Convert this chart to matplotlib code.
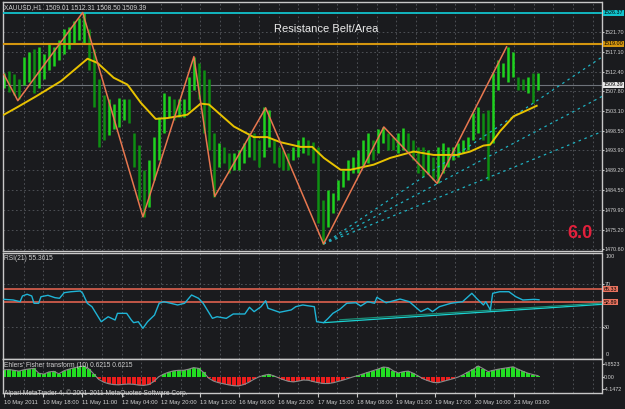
import matplotlib
matplotlib.use("Agg")
import matplotlib.pyplot as plt
import numpy as np

plt.rcParams['font.family'] = ['Liberation Sans', 'DejaVu Sans']

# ---- main window: hourly bars read off roughly every 5 px (~2.16 bars) ----
bar_high = [1512.2, 1512.5, 1511.8, 1510.6, 1516.0, 1517.0, 1517.7, 1518.2, 1516.5, 1518.9,
            1518.2, 1520.0, 1522.4, 1522.9, 1524.3, 1525.2, 1526.4, 1522.4, 1517.7, 1510.6,
            1507.0, 1505.9, 1504.7, 1506.3, 1505.9, 1505.9, 1498.0, 1495.2, 1489.3, 1491.7,
            1497.1, 1501.8, 1507.5, 1506.6, 1505.9, 1505.9, 1505.9, 1511.3, 1516.0, 1514.6,
            1512.9, 1510.6, 1498.0, 1495.7, 1494.7, 1493.3, 1493.3, 1494.0, 1495.7, 1498.0,
            1498.0, 1496.4, 1504.0, 1503.5, 1496.4, 1494.7, 1494.0, 1493.3, 1494.7, 1496.4,
            1497.1, 1496.4, 1495.9, 1494.7, 1482.2, 1484.6, 1483.9, 1486.9, 1489.3, 1491.7,
            1492.4, 1494.0, 1496.4, 1498.0, 1496.4, 1498.8, 1499.5, 1498.0, 1497.1, 1498.0,
            1499.2, 1498.0, 1496.4, 1494.7, 1494.7, 1494.0, 1492.4, 1494.7, 1495.7, 1494.7,
            1494.7, 1495.7, 1496.4, 1497.1, 1502.8, 1504.2, 1502.8, 1503.5, 1512.2, 1515.3,
            1514.6, 1518.2, 1517.0, 1511.3, 1510.6, 1511.3, 1512.2, 1512.2]
bar_low = [1508.7, 1507.7, 1507.0, 1505.9, 1509.4, 1509.9, 1507.5, 1508.7, 1510.6, 1512.9,
           1513.7, 1515.3, 1516.5, 1517.7, 1518.9, 1520.0, 1518.9, 1512.9, 1504.2, 1494.7,
           1496.4, 1497.6, 1498.8, 1499.5, 1501.1, 1500.4, 1490.0, 1482.2, 1478.2, 1480.5,
           1486.9, 1491.7, 1498.0, 1501.8, 1501.1, 1501.8, 1501.8, 1503.5, 1508.2, 1505.9,
           1498.0, 1494.0, 1482.9, 1490.0, 1490.9, 1488.6, 1489.3, 1489.3, 1490.9, 1492.4,
           1491.7, 1490.0, 1492.4, 1494.7, 1490.9, 1490.0, 1489.3, 1489.3, 1491.7, 1492.4,
           1493.3, 1492.8, 1490.9, 1476.8, 1471.8, 1475.8, 1479.1, 1482.2, 1485.3, 1486.9,
           1488.6, 1488.6, 1490.0, 1490.9, 1491.7, 1493.3, 1495.7, 1494.0, 1494.0, 1493.3,
           1494.0, 1493.3, 1491.7, 1488.6, 1487.6, 1488.6, 1486.9, 1486.2, 1488.6, 1490.0,
           1491.7, 1492.4, 1493.3, 1494.0, 1496.4, 1498.0, 1496.4, 1486.9, 1495.7, 1508.2,
           1511.3, 1509.9, 1511.3, 1508.2, 1508.2, 1507.5, 1505.1, 1508.2]

zz_hours = [0, 6, 34, 60, 82, 91, 113, 138, 164, 187, 217]
zz_price = [1511.8, 1505.6, 1526.4, 1478.2, 1516.0, 1483.0, 1503.9, 1471.8, 1499.4, 1486.1, 1518.3]

ma_hours = [0, 5.9, 13.8, 24.6, 36.1, 40.4, 47.4, 53.3, 59.1, 65.5, 70.6, 79.2, 84.9, 88.5,
            99.3, 107.9, 113.7, 119.4, 128.0, 133.1, 138.1, 145.3, 149.6, 159.6, 166.8, 176.9,
            185.5, 195.6, 201.3, 207.0, 209.9, 214.2, 220.0, 225.7, 230.0]
ma_price = [1502.3, 1504.1, 1506.6, 1510.2, 1515.5, 1514.5, 1511.0, 1509.4, 1505.1, 1501.3,
            1501.5, 1502.3, 1504.9, 1504.7, 1499.5, 1497.0, 1497.0, 1495.8, 1494.7, 1494.7,
            1492.1, 1489.3, 1489.3, 1490.5, 1492.1, 1493.6, 1492.8, 1492.8, 1493.6, 1495.0,
            1495.2, 1498.4, 1501.9, 1503.3, 1504.4]

# fan of dotted trendlines from the 17 May low, price where each meets the right edge
fan_end = [1515.9, 1506.6, 1498.3]

price_ticks = [1470.60, 1475.20, 1479.90, 1484.50, 1489.20, 1493.90, 1498.50,
               1503.10, 1507.80, 1512.40, 1517.10, 1521.70]
resist_hi = 1526.37
resist_lo = 1519.00
bid = 1509.39

# ---- RSI(21) ----
rsi_hours = [0, 4, 7, 8, 10, 12, 13, 15, 16, 19, 22, 24, 26, 29, 33, 34, 36, 38, 42, 45,
             48, 49, 53, 55, 56, 58, 60, 62, 65, 67, 69, 72, 75, 78, 81, 84, 86, 90, 92, 96,
             99, 104, 106, 108, 111, 113, 114, 119, 124, 126, 129, 132, 134, 135, 138, 140, 142,
             145, 148, 152, 154, 157, 160, 161, 165, 171, 175, 180, 183, 185, 188, 193, 198,
             202, 204, 207, 208, 210, 211, 214, 218, 221, 224, 229, 231]
rsi_values = [55.8, 55.2, 53.6, 59.0, 60.6, 59.0, 52.1, 52.1, 58.3, 59.6, 57.4, 56.8, 62.1,
              63.0, 63.7, 61.5, 52.1, 48.9, 34.7, 39.4, 36.3, 42.6, 42.6, 36.3, 33.8, 34.7,
              28.5, 34.7, 41.0, 52.1, 53.6, 52.1, 50.5, 52.1, 59.9, 56.8, 52.1, 37.9, 39.4,
              37.9, 42.0, 42.0, 48.3, 44.2, 48.9, 54.5, 47.4, 43.6, 45.8, 48.9, 50.5, 49.5,
              48.9, 34.7, 33.8, 37.9, 42.6, 46.4, 52.1, 52.6, 49.5, 53.6, 52.1, 57.7, 52.6,
              56.1, 53.6, 44.2, 47.4, 44.2, 48.9, 52.1, 53.6, 61.5, 56.8, 50.5, 53.6, 45.8,
              61.5, 63.0, 63.0, 58.3, 55.2, 55.8, 55.4]
rsi_lines = [65.33, 52.89]
rsi_trend = [(138, 33.8, 51.1), (145, 36.5, 52.3)]   # start hour, start value, value at right edge

# ---- Ehlers' Fisher transform, same ~5 px buckets as the bars ----
fisher = [2.8, 2.9, 2.6, 2.3, 2.8, 3.1, 3.3, 1.5, 1.2, 2.0,
          2.2, 1.3, 2.4, 3.0, 3.5, 3.9, 4.2, 3.2, 1.2, -0.8,
          -1.8, -2.4, -2.7, -2.8, -2.6, -2.5, -2.6, -2.9, -3.0, -2.7,
          -1.6, 0.2, 1.2, 1.9, 2.4, 2.6, 2.6, 3.0, 3.6, 3.3,
          1.8, -0.3, -1.4, -2.0, -2.4, -2.8, -3.1, -3.2, -2.7, -1.9,
          -0.8, 0.1, 0.7, 1.1, 0.6, -0.2, -0.9, -1.5, -1.7, -1.4,
          -1.0, -1.1, -1.6, -2.0, -2.3, -2.3, -2.0, -1.5, -1.0, -0.4,
          0.2, 0.7, 1.3, 1.9, 2.5, 3.1, 3.8, 3.6, 2.4, 1.6,
          2.1, 2.3, 1.5, 0.5, -0.6, -1.3, -1.9, -2.0, -1.5, -1.0,
          -0.5, 0.1, 1.0, 2.0, 3.0, 4.2, 3.2, 2.1, 2.6, 3.0,
          3.3, 3.6, 3.9, 3.0, 2.2, 1.5, 1.0, 0.6]

time_labels = ["10 May 2011", "10 May 18:00", "11 May 11:00", "12 May 04:00", "12 May 20:00",
               "13 May 13:00", "16 May 06:00", "16 May 22:00", "17 May 15:00", "18 May 08:00",
               "19 May 01:00", "19 May 17:00", "20 May 10:00", "23 May 03:00"]

BG = '#1a1b1e'
GRID = '#55585e'
TXT = '#d2d2d2'
BORDER = '#c8c8c8'
W, H = 625, 409
PX_PER_BAR = 2.32
x_max = 599 / PX_PER_BAR
bar_x = np.arange(len(bar_high)) * 5 / PX_PER_BAR
vgrid = np.arange(1, 31) * 8.47
label_x = np.arange(len(time_labels)) * 16.93
LAB = 3.9

fig = plt.figure(figsize=(W / 100, H / 100), dpi=100, facecolor=BG)


def pane(top, bottom):
    a = fig.add_axes([3 / W, 1 - bottom / H, 599 / W, (bottom - top) / H], facecolor=BG)
    a.set_xlim(-0.4, x_max)
    for s in a.spines.values():
        s.set_color(BORDER)
        s.set_linewidth(1.0)
    a.spines['top'].set_linestyle((0, (1, 1)))
    a.spines['bottom'].set_linestyle((0, (1, 1)))
    for g in vgrid:
        a.axvline(g, color=GRID, lw=0.6, ls=(0, (2, 3)), zorder=0)
    a.tick_params(axis='x', length=0, labelbottom=False)
    a.yaxis.tick_right()
    a.tick_params(axis='y', length=1.2, pad=0.4, labelsize=LAB, labelcolor=TXT, color=BORDER)
    return a


def tag(a, val, text, fc):
    a.text(1.0025, val, text, transform=a.get_yaxis_transform(), fontsize=LAB,
           color='black', va='center', ha='left',
           bbox=dict(facecolor=fc, edgecolor='none', pad=0.4), clip_on=False)


# main chart
ax = pane(1.5, 251)
ax.set_ylim(1470.13, 1529.0)
for p in price_ticks:
    ax.axhline(p, color=GRID, lw=0.6, ls=(0, (2, 3)), zorder=0)
ax.set_yticks(price_ticks)
ax.set_yticklabels([f"{p:.2f}" for p in price_ticks])

mids = (np.array(bar_high) + np.array(bar_low)) / 2
cols = ['#1ed21e' if i == 0 or mids[i] >= mids[i - 1] else '#0e8e12' for i in range(len(mids))]
ax.vlines(bar_x, bar_low, bar_high, colors=cols, lw=1.8, zorder=2)

ax.axhline(resist_hi, color='#12c3cc', lw=1.3, zorder=3)
ax.axhline(resist_lo, color='#d4960f', lw=1.5, zorder=3)
ax.axhline(bid, color='#6e737a', lw=0.8, zorder=1)

for end in fan_end:
    ax.plot([zz_hours[7], x_max], [zz_price[7], end], color='#1fb2c2', lw=0.9,
            ls=(0, (2, 3)), zorder=3)
ax.plot(ma_hours, ma_price, color='#e8c200', lw=1.4, zorder=4)
ax.plot(zz_hours, zz_price, color='#e8774f', lw=1.1, zorder=5)

tag(ax, resist_hi, f"{resist_hi:.2f}", '#12c3cc')
tag(ax, resist_lo, f"{resist_lo:.2f}", '#d4960f')
tag(ax, bid, f"{bid:.2f}", '#e8e8e8')

ax.text(0.002, 0.977, "XAUUSD,H1  1509.01 1512.31 1508.50 1509.39", transform=ax.transAxes,
        fontsize=4.8, color=TXT, va='center', ha='left')
ax.text(0.539, 0.89, "Resistance Belt/Area", transform=ax.transAxes, fontsize=8,
        color='#ececec', va='center', ha='center')
ax.text(0.963, 0.072, "6.0", transform=ax.transAxes, fontsize=13, fontweight='bold',
        color='#e3203c', va='center', ha='center')

# RSI pane
ax2 = pane(252.5, 358.5)
ax2.set_ylim(0, 100)
for lv in (70, 30):
    ax2.axhline(lv, color=GRID, lw=0.6, ls=(0, (2, 3)), zorder=0)
ax2.set_yticks([70, 30])
ax2.set_yticklabels(['70', '30'])
for lv in rsi_lines:
    ax2.axhline(lv, color='#de614f', lw=1.2, zorder=2)
    tag(ax2, lv, f"{lv:.2f}", '#e8735f')
for (h0, v0, v1), c in zip(rsi_trend, ['#1ad2d2', '#1a8f78']):
    ax2.plot([h0, x_max], [v0, v1], color=c, lw=0.9, zorder=3)
ax2.plot(rsi_hours, rsi_values, color='#1fb4d6', lw=1.0, zorder=4)
ax2.text(1.006, 96.5, "100", transform=ax2.get_yaxis_transform(), fontsize=LAB, color=TXT,
         va='center', ha='left')
ax2.text(1.006, 3.5, "0", transform=ax2.get_yaxis_transform(), fontsize=LAB, color=TXT,
         va='center', ha='left')
ax2.text(0.002, 0.94, "RSI(21) 55.3615", transform=ax2.transAxes, fontsize=4.8, color=TXT,
         va='center', ha='left')

# Fisher pane
ax3 = pane(359.3, 392.7)
ax3.set_ylim(-5.7, 6.67)
fish = np.array(fisher)
ax3.bar(bar_x, fish, width=5 / PX_PER_BAR * 0.8,
        color=np.where(fish >= 0, '#22dd22', '#ee1c1c'), edgecolor='none', zorder=2)
ax3.plot(bar_x, fish, color='#8a8a8a', lw=0.8, zorder=3)
ax3.set_yticks([4.8523, 0, -4.1472])
ax3.set_yticklabels(['4.8523', '0.00', '-4.1472'])
ax3.text(0.002, 0.8, "Ehlers' Fisher transform (10) 0.6215 0.6215", transform=ax3.transAxes,
         fontsize=4.8, color=TXT, va='center', ha='left')
ax3.text(0.002, 0.0, "Alpari MetaTrader 4, \u00a9 2001-2011 MetaQuotes Software Corp.",
         transform=ax3.transAxes, fontsize=4.8, color=TXT, va='center', ha='left', zorder=6)
ax3.set_xticks(label_x)
ax3.set_xticklabels(time_labels, ha='left')
ax3.tick_params(axis='x', length=3, pad=2, labelbottom=True, labelsize=4.2,
                labelcolor=TXT, color=BORDER)

fig.savefig("out.png", dpi=100, facecolor=BG)
